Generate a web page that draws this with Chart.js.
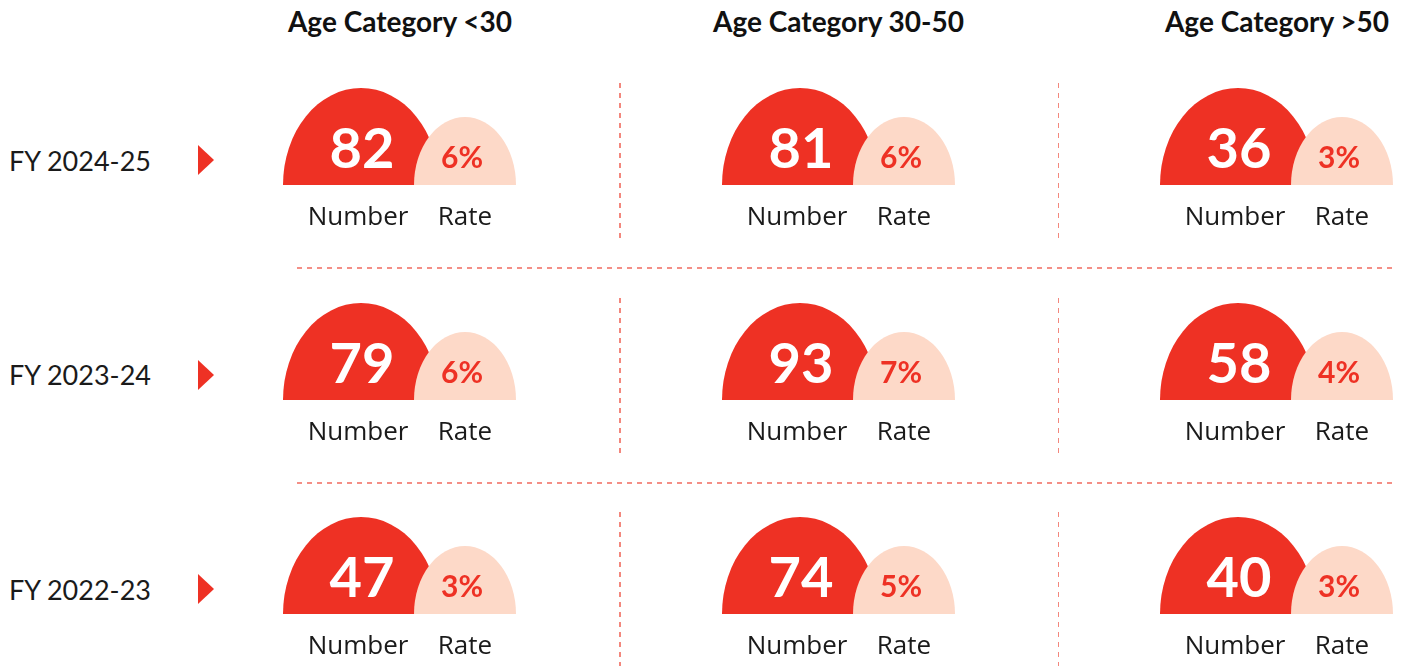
<!DOCTYPE html>
<html>
<head>
<meta charset="utf-8">
<script src="https://cdn.jsdelivr.net/npm/chart.js@4.4.1/dist/chart.umd.min.js"></script>
<style>
  html, body { margin: 0; padding: 0; background: #fff; }
  #board { position: relative; width: 1403px; height: 666px; overflow: hidden; font-family: "Open Sans", Lato, sans-serif; color: #1a1a1a; }
  .head { position: absolute; width: 320px; text-align: center; font-family: Lato, sans-serif; font-size: 28px; line-height: 28px; font-weight: 700; color: #111; }
  .year { position: absolute; left: 9px; font-family: Lato, sans-serif; font-size: 27px; line-height: 27px; font-weight: 400; }
  .arrow { position: absolute; left: 198px; width: 0; height: 0; border-left: 16px solid #ee3124; border-top: 15.5px solid transparent; border-bottom: 15.5px solid transparent; }
  .vdash { position: absolute; width: 1.5px; background: repeating-linear-gradient(to bottom, #f3877d 0 5px, transparent 5px 10px); }
  .hdash { position: absolute; height: 2px; background: repeating-linear-gradient(to right, #f48f86 0 5px, transparent 5px 10px); }
  .cell { position: absolute; width: 270px; height: 175px; }
</style>
</head>
<body>
<div id="board"></div>
<script>
// data
const ageCategories = ['Age Category <30', 'Age Category 30-50', 'Age Category >50'];
const years = ['FY 2024-25', 'FY 2023-24', 'FY 2022-23'];
const barLabels = ['Number', 'Rate'];
// one list per year, in the order of ageCategories
const numbersFY2425 = [82, 81, 36];
const numbersFY2324 = [79, 93, 58];
const numbersFY2223 = [47, 74, 40];
const ratesFY2425 = [6, 6, 3];
const ratesFY2324 = [6, 7, 4];
const ratesFY2223 = [3, 5, 3];
const numbers = [numbersFY2425, numbersFY2324, numbersFY2223];
const rates = [ratesFY2425, ratesFY2324, ratesFY2223];

// look
const RED = '#ee3124';
const PEACH = '#fdd9c8';
const DOME = { number: { h: 97, w: 156, shift: 3 }, rate: { h: 68, w: 102, shift: 0 } };
const COL_STEP = 438.5;
const ROW_STEP = 214.5;

// half-ellipse bar
class DomeElement extends Chart.BarElement {
  static id = 'dome';
  static defaults = { ...Chart.BarElement.defaults, shift: 0 };
  static defaultRoutes = { ...Chart.BarElement.defaultRoutes };
  draw(ctx) {
    const { x, y, base, width } = this.getProps(['x', 'y', 'base', 'width']);
    const cx = x + (this.options.shift || 0);
    ctx.save();
    ctx.fillStyle = this.options.backgroundColor;
    ctx.beginPath();
    ctx.ellipse(cx, base, width / 2, Math.abs(base - y), 0, Math.PI, 2 * Math.PI);
    ctx.closePath();
    ctx.fill();
    ctx.restore();
  }
}
class DomeController extends Chart.BarController {
  static id = 'dome';
  static defaults = { ...Chart.BarController.defaults, dataElementType: 'dome' };
  static overrides = Chart.BarController.overrides;
}
Chart.register(DomeElement, DomeController);

const valueLabels = {
  id: 'valueLabels',
  afterDatasetsDraw(chart) {
    const ctx = chart.ctx;
    const { num, rate } = chart.options.plugins.valueLabels;
    ctx.save();
    ctx.textAlign = 'center';
    ctx.textBaseline = 'alphabetic';
    const n = chart.getDatasetMeta(0).data[0];
    ctx.fillStyle = '#fff';
    ctx.font = '700 56px Lato, "Open Sans", sans-serif';
    ctx.fillText(String(num), n.x + 4, n.base - 17);
    const r = chart.getDatasetMeta(1).data[1];
    ctx.fillStyle = RED;
    ctx.font = '700 30px Lato, "Open Sans", sans-serif';
    ctx.fillText(rate + '%', r.x - 3, r.base - 17);
    ctx.restore();
  }
};

const board = document.getElementById('board');
function add(cls, css, text) {
  const d = document.createElement('div');
  d.className = cls;
  Object.assign(d.style, css);
  if (text) d.textContent = text;
  board.appendChild(d);
  return d;
}

ageCategories.forEach((name, c) => {
  add('head', { left: (400 + c * COL_STEP - 160) + 'px', top: '7px' }, name);
});

years.forEach((yr, r) => {
  const dy = r * ROW_STEP;
  add('year', { top: (146.7 + dy) + 'px' }, yr);
  add('arrow', { top: (145 + dy) + 'px' });
  [619, 619 + COL_STEP].forEach(x => {
    add('vdash', { left: x + 'px', top: (83 + dy) + 'px', height: '157px' });
  });
  if (r > 0) add('hdash', { left: '297px', top: Math.round(267 + (r - 1) * ROW_STEP) + 'px', width: '1097px' });

  ageCategories.forEach((cat, c) => {
    const cell = add('cell', { left: (270 + c * COL_STEP) + 'px', top: (70 + dy) + 'px' });
    const canvas = document.createElement('canvas');
    cell.appendChild(canvas);
    new Chart(canvas, {
      type: 'dome',
      data: {
        labels: barLabels,
        datasets: [
          { label: 'Number', data: [DOME.number.h, null], backgroundColor: RED, barThickness: DOME.number.w, shift: DOME.number.shift, clip: false, order: 1 },
          { label: 'Rate', data: [null, DOME.rate.h], backgroundColor: PEACH, barThickness: DOME.rate.w, shift: DOME.rate.shift, clip: false, order: 0 }
        ]
      },
      options: {
        responsive: true,
        maintainAspectRatio: false,
        animation: false,
        events: [],
        layout: { padding: { left: 34.5, right: 21.5, top: 15, bottom: 0 } },
        datasets: { dome: { grouped: false, skipNull: true } },
        scales: {
          x: {
            type: 'category',
            offset: true,
            grid: { display: false, drawTicks: false },
            border: { display: false },
            afterFit: s => { s.height = 60; },
            ticks: {
              padding: 17,
              autoSkip: false,
              maxRotation: 0,
              color: '#1a1a1a',
              font: { family: '"Open Sans", Lato, sans-serif', size: 26, weight: 400 }
            }
          },
          y: { type: 'linear', display: false, min: 0, max: 100 }
        },
        plugins: {
          legend: { display: false },
          tooltip: { enabled: false },
          valueLabels: { num: numbers[r][c], rate: rates[r][c] }
        }
      },
      plugins: [valueLabels]
    });
  });
});
</script>
</body>
</html>
